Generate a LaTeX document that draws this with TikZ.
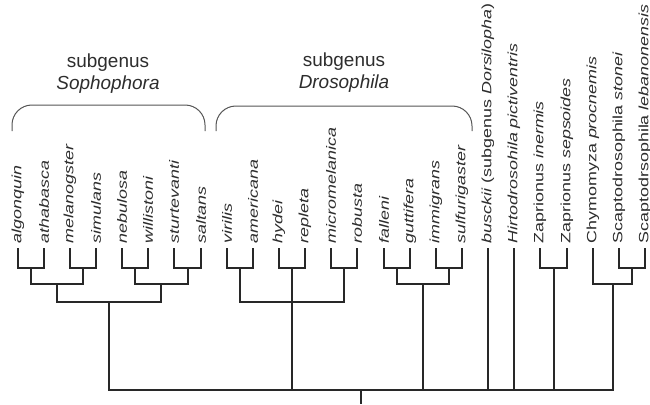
\documentclass[tikz,border=0pt]{standalone}
\usepackage{fontspec}
\setmainfont{Liberation Sans}
\newfontfamily\leaffont[FakeStretch=1.33]{Liberation Sans}
\usepackage{tikz}
\usetikzlibrary{calc}
\definecolor{treeline}{RGB}{40,40,40}
\definecolor{labeltext}{RGB}{45,45,45}
\definecolor{bracegray}{RGB}{85,85,85}
\tikzset{
  branch/.style={line width=2bp, color=treeline},
  leaf/.style={rotate=90, anchor=west, inner xsep=4.5pt, inner ysep=0pt,
    text=labeltext, font=\leaffont\fontsize{13.5}{16}\selectfont},
  grouplabel/.style={align=center, text=labeltext, font=\fontsize{19}{22}\selectfont},
  bracket/.style={line width=1bp, color=bracegray, rounded corners=20pt}
}
\newcommand{\joinpair}[4]{%
  \coordinate (#3m) at ($(#1)!.5!(#2)$);
  \coordinate (#3) at (#3m |- #4);
  \draw[branch] (#1) |- (#3) -| (#2);
}

\begin{document}
\begin{tikzpicture}[x=1bp, y=-1bp]
  \useasboundingbox (0,0) rectangle (650,404);

  \coordinate (lev1) at (0,268);
  \coordinate (lev2) at (0,284);
  \coordinate (lev3) at (0,302);
  \coordinate (lev4) at (0,390);
  \coordinate (base) at (0,404);

  \foreach \lab [count=\i from 0] in {\textit{algonquin}, \textit{athabasca},
      \textit{melanogster}, \textit{simulans}, \textit{nebulosa}, \textit{willistoni},
      \textit{sturtevanti}, \textit{saltans}, \textit{virilis}, \textit{americana},
      \textit{hydei}, \textit{repleta}, \textit{micromelanica}, \textit{robusta},
      \textit{falleni}, \textit{guttifera}, \textit{immigrans}, \textit{sulfurigaster},
      \textit{busckii} (subgenus \textit{Dorsilopha}), \textit{Hirtodrosohila pictiventris},
      Zaprionus \textit{inermis}, Zaprionus \textit{sepsoides}, Chymomyza \textit{procnemis},
      Scaptodrosophila \textit{stonei}, Scaptodrsophila \textit{lebanonensis}}
    \node[leaf] (t\i) at ({round(17.5+26.15*\i)},248) {\lab};

  % subgenus Sophophora
  \joinpair{t0.west}{t1.west}{a1}{lev1}
  \joinpair{t2.west}{t3.west}{a2}{lev1}
  \joinpair{t4.west}{t5.west}{a3}{lev1}
  \joinpair{t6.west}{t7.west}{a4}{lev1}
  \joinpair{a1}{a2}{b1}{lev2}
  \joinpair{a3}{a4}{b2}{lev2}
  \joinpair{b1}{b2}{soph}{lev3}

  % subgenus Drosophila
  \joinpair{t8.west}{t9.west}{a5}{lev1}
  \joinpair{t10.west}{t11.west}{a6}{lev1}
  \joinpair{t12.west}{t13.west}{a7}{lev1}
  \joinpair{a5}{a7}{dros}{lev3}
  \joinpair{t14.west}{t15.west}{a8}{lev1}
  \joinpair{t16.west}{t17.west}{a9}{lev1}
  \joinpair{a8}{a9}{b3}{lev2}

  % outgroups
  \joinpair{t20.west}{t21.west}{a10}{lev1}
  \joinpair{t23.west}{t24.west}{a11}{lev1}
  \joinpair{t22.west}{a11}{b4}{lev2}

  \joinpair{soph}{b4}{root}{lev4}
  \draw[branch] (a6) -- (a6 |- lev4);
  \draw[branch] (b3) -- (b3 |- lev4);
  \draw[branch] (t18.west) -- (t18.west |- lev4);
  \draw[branch] (t19.west) -- (t19.west |- lev4);
  \draw[branch] (a10) -- (a10 |- lev4);
  \draw[branch] (root) -- (root |- base);

  \node[grouplabel] (sophlab) at (108,74) {subgenus\\\textit{Sophophora}};
  \node[grouplabel] (droslab) at (344,73) {subgenus\\\textit{Drosophila}};
  \draw[bracket] (12,131) -- (12,105) -- (205,105) -- (205,131);
  \draw[bracket] (216,131) -- (216,106) -- (472,106) -- (472,131);
\end{tikzpicture}
\end{document}
